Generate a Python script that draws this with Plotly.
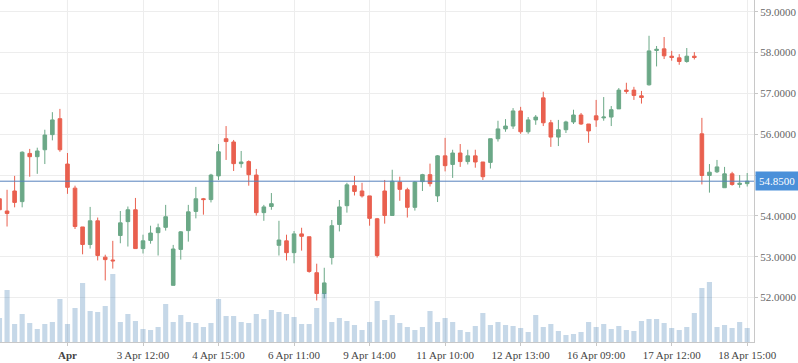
import plotly.graph_objects as go

# ---- data ----
open_ = [54.42, 54.12, 54.61, 54.35, 55.53, 55.45, 55.62, 55.99, 56.38, 55.27,
         54.68, 53.73, 53.30, 53.88, 52.99, 52.92, 53.52, 53.86, 54.15, 53.20,
         53.40, 53.59, 53.72, 52.30, 53.18, 53.64, 54.11, 54.42, 54.40, 54.98,
         55.89, 55.81, 55.28, 55.33, 55.00, 54.08, 54.23, 53.28, 53.39, 53.10,
         53.56, 53.49, 52.61, 52.10, 52.98, 53.79, 54.25, 54.74, 54.61, 54.49,
         53.93, 54.61, 54.01, 54.83, 54.64, 54.21, 54.84, 55.01, 54.49, 55.47,
         55.26, 55.54, 55.33, 55.47, 55.32, 55.31, 55.89, 56.13, 56.20, 56.57,
         56.06, 56.35, 56.89, 56.28, 55.93, 56.11, 56.30, 56.47, 56.25, 56.45,
         56.40, 56.42, 56.62, 57.08, 57.08, 56.94, 57.21, 58.05, 58.09, 57.91,
         57.87, 57.78, 57.91, 56.01, 54.99, 55.08, 54.69, 55.03, 54.77, 54.79]
high = [54.68, 54.64, 54.98, 55.58, 55.64, 55.67, 56.11, 56.54, 56.62, 55.54,
        54.74, 53.73, 54.22, 53.96, 53.05, 53.39, 54.12, 54.23, 54.44, 53.54,
        53.76, 53.81, 54.27, 53.29, 53.63, 54.27, 54.71, 54.44, 55.03, 55.76,
        56.20, 55.86, 55.59, 55.36, 55.15, 54.27, 54.56, 53.88, 53.54, 53.63,
        53.71, 53.49, 52.83, 52.73, 53.90, 54.39, 54.81, 54.98, 54.81, 54.49,
        53.95, 54.88, 55.13, 54.96, 54.69, 54.85, 55.03, 55.28, 55.49, 55.91,
        55.62, 55.76, 55.62, 55.62, 55.32, 55.89, 56.33, 56.37, 56.64, 56.67,
        56.42, 56.47, 57.04, 56.35, 56.35, 56.33, 56.60, 56.52, 56.25, 56.84,
        56.91, 56.69, 57.13, 57.26, 57.16, 57.06, 58.41, 58.16, 58.38, 58.04,
        57.96, 58.11, 58.01, 56.40, 55.27, 55.37, 55.20, 55.08, 55.00, 55.05]
low = [54.13, 53.74, 54.21, 54.21, 54.96, 55.03, 55.27, 55.85, 55.57, 54.54,
       53.68, 53.06, 53.20, 52.91, 52.42, 52.71, 53.33, 53.25, 53.20, 53.08,
       53.32, 53.03, 53.64, 52.30, 52.93, 53.37, 53.94, 54.03, 54.33, 54.88,
       55.37, 55.10, 55.18, 54.74, 54.01, 53.88, 54.15, 53.03, 52.91, 52.84,
       53.15, 52.61, 51.93, 51.98, 52.81, 53.62, 54.08, 54.50, 54.45, 53.76,
       52.98, 53.81, 54.01, 54.37, 53.96, 54.13, 54.61, 54.72, 54.34, 55.09,
       54.93, 55.20, 55.26, 55.18, 54.88, 55.16, 55.82, 56.06, 56.13, 56.01,
       56.01, 56.23, 56.20, 55.69, 55.71, 56.03, 56.25, 56.23, 55.79, 56.18,
       56.33, 56.20, 56.62, 56.99, 56.84, 56.75, 57.19, 57.66, 57.84, 57.80,
       57.70, 57.75, 57.83, 54.77, 54.57, 55.05, 54.69, 54.74, 54.69, 54.72]
close = [54.15, 54.06, 54.33, 55.56, 55.45, 55.59, 55.98, 56.35, 55.62, 54.70,
         53.74, 53.30, 53.88, 53.03, 52.93, 52.90, 53.83, 54.15, 53.20, 53.39,
         53.58, 53.71, 53.98, 53.19, 53.61, 54.10, 54.42, 54.40, 55.00, 55.57,
         55.82, 55.28, 55.32, 55.01, 54.08, 54.22, 54.30, 53.41, 53.10, 53.56,
         53.50, 52.64, 52.10, 52.36, 53.76, 54.22, 54.76, 54.60, 54.49, 53.94,
         53.03, 54.01, 54.85, 54.65, 54.21, 54.83, 55.01, 54.79, 55.47, 55.23,
         55.54, 55.33, 55.47, 55.32, 54.96, 55.89, 56.13, 56.20, 56.57, 56.06,
         56.35, 56.42, 56.28, 55.93, 56.11, 56.30, 56.47, 56.25, 56.08, 56.35,
         56.42, 56.60, 57.08, 57.05, 56.95, 56.90, 58.04, 58.08, 57.92, 57.88,
         57.78, 57.91, 57.88, 54.99, 55.07, 55.20, 55.03, 54.77, 54.80, 54.85]
volume = [24, 52, 18, 28, 19, 13, 18, 20, 43, 18,
          34, 59, 31, 30, 36, 68, 20, 28, 21, 13,
          12, 15, 38, 20, 27, 20, 19, 15, 19, 43,
          26, 26, 20, 19, 28, 23, 32, 30, 28, 25,
          18, 18, 34, 49, 20, 24, 21, 17, 12, 20,
          41, 22, 27, 19, 15, 12, 15, 31, 20, 24,
          20, 12, 10, 16, 29, 17, 20, 17, 16, 14,
          10, 27, 15, 18, 11, 7, 8, 10, 20, 15,
          18, 13, 16, 12, 11, 21, 23, 23, 19, 14,
          12, 15, 29, 54, 60, 15, 17, 14, 20, 14]
tick_pos = [9, 19, 29, 39, 49, 59, 69, 79, 89, 99]
tick_text = ["<b>Apr</b>", "3 Apr 12:00", "4 Apr 15:00", "6 Apr 11:00", "9 Apr 14:00",
             "11 Apr 10:00", "12 Apr 13:00", "16 Apr 09:00", "17 Apr 12:00", "18 Apr 15:00"]
price_ticks = [52, 53, 54, 55, 56, 57, 58, 59]
price_tick_text = ["52.0000", "53.0000", "54.0000", "", "56.0000", "57.0000", "58.0000", "59.0000"]
last_price = 54.85

idx = list(range(len(close)))

GREEN = "#6BA887"
RED = "#E9604F"
FONT = "Liberation Serif"

fig = go.Figure()
fig.add_trace(go.Bar(
    x=idx, y=volume, yaxis="y2", marker=dict(color="rgba(70,130,180,0.31)", line_width=0),
    showlegend=False, hoverinfo="skip"))
fig.add_trace(go.Candlestick(
    x=idx, open=open_, high=high, low=low, close=close,
    increasing=dict(line=dict(color=GREEN, width=1), fillcolor=GREEN),
    decreasing=dict(line=dict(color=RED, width=1), fillcolor=RED),
    whiskerwidth=0, showlegend=False))

fig.update_layout(
    width=798, height=363,
    margin=dict(l=0, r=44, t=0, b=21),
    paper_bgcolor="white", plot_bgcolor="white",
    font=dict(family=FONT, size=11, color="#555555"),
    boxgap=0.32, bargap=0.32,
    xaxis=dict(
        range=[0.066, 99.9], tickmode="array", tickvals=tick_pos, ticktext=tick_text,
        showgrid=True, gridcolor="#ededed", gridwidth=1, zeroline=False,
        showline=True, linecolor="#c8c8c8", ticks="outside", ticklen=3, tickcolor="#c8c8c8",
        tickfont=dict(family=FONT, size=11, color="#444444"),
        rangeslider=dict(visible=False)),
    yaxis=dict(
        side="right", range=[50.913, 59.286], tickmode="array",
        tickvals=price_ticks, ticktext=price_tick_text,
        showgrid=True, gridcolor="#ededed", gridwidth=1, zeroline=False,
        showline=True, linecolor="#c8c8c8", ticks="outside", ticklen=3, tickcolor="#c8c8c8",
        tickfont=dict(family=FONT, size=11, color="#666666")),
    yaxis2=dict(overlaying="y", range=[0, 342], visible=False, showgrid=False),
    shapes=[
        dict(type="line", xref="x", yref="paper", x0=9, x1=9, y0=0, y1=1,
             line=dict(color="#c6c6c6", width=1), layer="below"),
        dict(type="line", xref="paper", yref="y", x0=0, x1=1, y0=last_price, y1=last_price,
             line=dict(color="#5682bd", width=1)),
    ],
    annotations=[
        dict(xref="paper", yref="y", x=1, y=last_price, xanchor="left", yanchor="middle",
             text="%.4f" % last_price, showarrow=False, xshift=1,
             bgcolor="#4A90D9", borderpad=3,
             font=dict(family=FONT, size=11, color="white")),
    ],
)

fig.write_html(
    "out.html",
    config={"displayModeBar": False},
    post_script="document.body.style.margin='0';document.body.style.overflow='hidden';",
)
